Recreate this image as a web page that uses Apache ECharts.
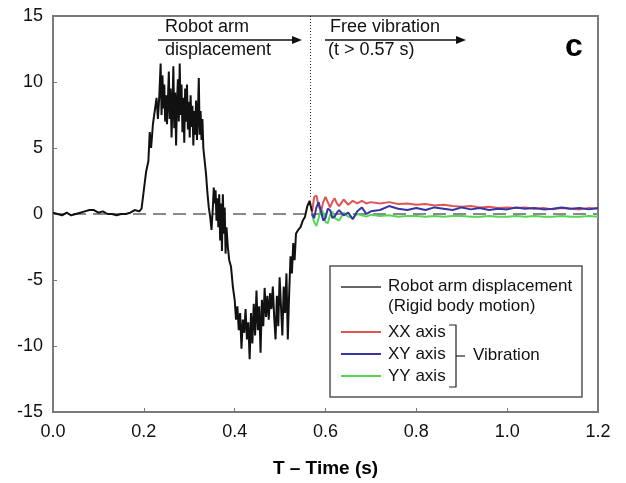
<!DOCTYPE html>
<html>
<head>
<meta charset="utf-8">
<script src="https://cdn.jsdelivr.net/npm/echarts@6/dist/echarts.min.js"></script>
<style>
  html, body { margin: 0; padding: 0; background: #fff; }
  #chart-container { width: 626px; height: 483px; }
</style>
</head>
<body>
<div id="chart-container"></div>
<script>
// rigid body motion of the robot arm
var armTime = [0.000, 0.010, 0.020, 0.030, 0.040, 0.050, 0.060, 0.070, 0.080, 0.090,
  0.100, 0.110, 0.120, 0.130, 0.140, 0.150, 0.160, 0.170, 0.180, 0.190, 0.195,
  0.200, 0.205, 0.210, 0.213, 0.216, 0.220, 0.224, 0.228, 0.231, 0.234, 0.237,
  0.239, 0.241, 0.243, 0.245, 0.247, 0.249, 0.251, 0.253, 0.255, 0.257, 0.259,
  0.261, 0.263, 0.265, 0.267, 0.269, 0.271, 0.273, 0.275, 0.277, 0.279, 0.281,
  0.283, 0.285, 0.287, 0.289, 0.291, 0.293, 0.295, 0.297, 0.299, 0.301, 0.303,
  0.305, 0.307, 0.309, 0.311, 0.313, 0.315, 0.317, 0.319, 0.321, 0.323, 0.325,
  0.327, 0.329, 0.331, 0.334, 0.337, 0.340, 0.343, 0.346, 0.349, 0.352, 0.354,
  0.356, 0.358, 0.360, 0.362, 0.364, 0.366, 0.368, 0.370, 0.372, 0.374, 0.376,
  0.378, 0.380, 0.382, 0.385, 0.388, 0.392, 0.396, 0.400, 0.403, 0.406, 0.409,
  0.412, 0.415, 0.418, 0.421, 0.424, 0.427, 0.430, 0.433, 0.436, 0.439, 0.442,
  0.445, 0.448, 0.451, 0.454, 0.457, 0.460, 0.463, 0.466, 0.469, 0.472, 0.475,
  0.478, 0.481, 0.484, 0.487, 0.490, 0.493, 0.496, 0.499, 0.502, 0.505, 0.508,
  0.511, 0.514, 0.517, 0.520, 0.523, 0.526, 0.529, 0.532, 0.535, 0.540, 0.545,
  0.550, 0.555, 0.560, 0.565, 0.570];
var armValue = [0.1, 0.0, -0.1, 0.1, -0.1, 0.0, 0.1, 0.2, 0.3, 0.3,
  0.1, 0.2, 0.0, 0.0, -0.1, 0.0, 0.0, 0.1, 0.3, 0.2, 0.4,
  1.8, 3.2, 4.0, 6.2, 5.0, 6.8, 7.8, 8.8, 7.2, 8.9, 11.4,
  7.5, 10.5, 8.0, 9.8, 7.0, 9.0, 6.8, 8.5, 10.8, 7.2, 9.5,
  5.8, 8.0, 11.2, 6.5, 9.2, 5.2, 8.4, 10.2, 7.0, 11.4, 7.5,
  9.8, 6.2, 8.8, 5.4, 9.5, 7.0, 9.8, 6.4, 8.5, 5.8, 9.0,
  6.6, 8.2, 5.2, 7.8, 6.0, 8.6, 5.6, 7.4, 10.3, 6.0, 7.8,
  5.6, 7.2, 5.0, 4.0, 3.0, 1.6, 0.5, -0.2, -1.2, 0.5, 2.0,
  0.8, 1.8, -0.5, 1.2, -1.0, 1.5, -2.0, 0.8, -2.8, 1.5, -1.5,
  0.5, -3.0, -1.0, -2.5, -3.5, -4.0, -5.5, -6.5, -8.0, -7.0, -8.8,
  -7.5, -10.2, -8.0, -9.0, -7.2, -9.5, -8.2, -11.0, -7.5, -9.8, -6.8,
  -9.2, -5.8, -8.8, -7.0, -10.5, -6.5, -8.5, -5.6, -7.8, -6.2, -8.0,
  -6.0, -7.2, -5.5, -7.8, -9.5, -6.2, -8.5, -4.8, -7.0, -9.2, -5.5,
  -7.5, -4.5, -9.5, -6.0, -3.2, -4.5, -2.2, -3.5, -1.5, -1.2, -1.0,
  -0.5, -0.2, 0.6, 1.0, 0.2];

// free vibration after t = 0.57 s
var vibTime = [0.570, 0.575, 0.580, 0.585, 0.590, 0.595, 0.600, 0.605, 0.610, 0.615,
  0.620, 0.625, 0.630, 0.640, 0.650, 0.660, 0.670, 0.680, 0.690, 0.700,
  0.720, 0.740, 0.760, 0.780, 0.800, 0.820, 0.840, 0.860, 0.880, 0.900,
  0.920, 0.940, 0.960, 0.980, 1.000, 1.020, 1.040, 1.060, 1.080, 1.100,
  1.120, 1.140, 1.160, 1.180, 1.200];
var xxValue = [0.0, 1.3, 1.4, 0.6, 0.2, 0.9, 1.3, 0.9, 0.5, 0.9,
  1.2, 0.8, 0.6, 1.1, 0.7, 1.0, 0.8, 1.0, 0.8, 0.9,
  0.8, 0.9, 0.75, 0.8, 0.7, 0.75, 0.65, 0.7, 0.6, 0.55,
  0.6, 0.5, 0.55, 0.45, 0.5, 0.45, 0.5, 0.4, 0.45, 0.35,
  0.45, 0.4, 0.35, 0.45, 0.4];
var xyValue = [0.0, -0.3, 0.5, 0.9, 0.2, -0.5, -0.3, 0.4, 0.3, -0.3,
  -0.2, 0.1, 0.3, -0.1, 0.1, -0.4, 0.2, 0.5, 0.0, 0.2,
  0.3, 0.6, 0.4, 0.3, 0.45, 0.3, 0.5, 0.4, 0.3, 0.5,
  0.35, 0.45, 0.3, 0.4, 0.35, 0.5, 0.4, 0.45, 0.35, 0.4,
  0.5, 0.4, 0.45, 0.35, 0.45];
var yyValue = [0.0, -0.6, -0.9, -0.3, 0.4, 0.1, -0.6, -0.7, -0.1, 0.2,
  -0.3, -0.4, -0.5, 0.1, -0.2, -0.3, 0.0, -0.1, -0.2, -0.05,
  -0.15, -0.1, -0.2, -0.15, -0.15, -0.2, -0.15, -0.2, -0.15, -0.15,
  -0.2, -0.2, -0.15, -0.2, -0.2, -0.15, -0.2, -0.15, -0.2, -0.2,
  -0.15, -0.2, -0.2, -0.15, -0.2];

var xTicks = [0.0, 0.2, 0.4, 0.6, 0.8, 1.0, 1.2];
var yTicks = [-15, -10, -5, 0, 5, 10, 15];
var splitTime = 0.567;

function pairs(t, v) {
  return t.map(function (x, i) { return [x, v[i]]; });
}

var chartDom = document.getElementById('chart-container');
var myChart = echarts.init(chartDom);
var font = 'Liberation Sans, Arial, sans-serif';

var option = {
  animation: false,
  grid: {
    left: 53, right: 28, top: 16, bottom: 71,
    show: true, borderColor: '#7a7a7a', borderWidth: 2
  },
  xAxis: {
    type: 'value',
    min: xTicks[0], max: xTicks[xTicks.length - 1], interval: 0.2,
    name: 'T – Time (s)', nameLocation: 'middle', nameGap: 47,
    nameTextStyle: { fontFamily: font, fontSize: 19, fontWeight: 'bold', color: '#000' },
    axisLine: { show: true, onZero: false, lineStyle: { color: '#7a7a7a', width: 2 } },
    axisTick: { inside: true, length: 4, lineStyle: { color: '#7a7a7a' } },
    axisLabel: { fontFamily: font, fontSize: 18, color: '#111', margin: 11,
      formatter: function (v) { return v.toFixed(1); } },
    splitLine: { show: false }
  },
  yAxis: {
    type: 'value',
    min: yTicks[0], max: yTicks[yTicks.length - 1], interval: 5,
    axisLine: { show: true, onZero: false, lineStyle: { color: '#7a7a7a', width: 2 } },
    axisTick: { show: true, inside: true, length: 4, lineStyle: { color: '#7a7a7a' } },
    axisLabel: { fontFamily: font, fontSize: 18, color: '#111', margin: 10 },
    splitLine: { show: false }
  },
  series: [
    {
      name: 'zero', type: 'line', symbol: 'none', silent: true,
      data: [[xTicks[0], 0], [xTicks[xTicks.length - 1], 0]],
      lineStyle: { color: '#8a8a8a', width: 2, type: [13, 7] }, z: 1
    },
    {
      name: 'YY axis', type: 'line', symbol: 'none', data: pairs(vibTime, yyValue),
      lineStyle: { color: '#55d655', width: 2 }, z: 2
    },
    {
      name: 'XX axis', type: 'line', symbol: 'none', data: pairs(vibTime, xxValue),
      lineStyle: { color: '#e05555', width: 2 }, z: 2
    },
    {
      name: 'XY axis', type: 'line', symbol: 'none', data: pairs(vibTime, xyValue),
      lineStyle: { color: '#3535a5', width: 2 }, z: 3
    },
    {
      name: 'Robot arm displacement', type: 'line', symbol: 'none',
      data: pairs(armTime, armValue),
      lineStyle: { color: '#111', width: 2 }, z: 4
    },
    {
      name: 'split', type: 'line', symbol: 'none', silent: true,
      data: [[splitTime, 15], [splitTime, 1.3]],
      lineStyle: { color: '#222', width: 1, type: [1, 2] }, z: 4
    }
  ],
  graphic: [
    // annotations
    { type: 'text', left: 165, top: 18, style: { text: 'Robot arm', font: '18px ' + font, fill: '#111' } },
    { type: 'text', left: 165, top: 41, style: { text: 'displacement', font: '18px ' + font, fill: '#111' } },
    { type: 'line', shape: { x1: 158, y1: 40, x2: 294, y2: 40 }, style: { stroke: '#111', lineWidth: 1.5 } },
    { type: 'polygon', shape: { points: [[302, 40], [292, 36], [292, 44]] }, style: { fill: '#111' } },
    { type: 'text', left: 330, top: 18, style: { text: 'Free vibration', font: '18px ' + font, fill: '#111' } },
    { type: 'text', left: 328, top: 41, style: { text: '(t > 0.57 s)', font: '18px ' + font, fill: '#111' } },
    { type: 'line', shape: { x1: 325, y1: 40, x2: 458, y2: 40 }, style: { stroke: '#111', lineWidth: 1.5 } },
    { type: 'polygon', shape: { points: [[466, 40], [456, 36], [456, 44]] }, style: { fill: '#111' } },
    { type: 'text', left: 565, top: 31, style: { text: 'c', font: 'bold 32px ' + font, fill: '#000' } },
    // legend box
    { type: 'rect', shape: { x: 330, y: 266, width: 252, height: 131 },
      style: { fill: '#fff', stroke: '#555', lineWidth: 1.5 }, z: 10 },
    { type: 'line', shape: { x1: 341, y1: 287, x2: 381, y2: 287 }, style: { stroke: '#333', lineWidth: 1.5 }, z: 11 },
    { type: 'text', left: 388, top: 278, z: 11, style: { text: 'Robot arm displacement', font: '17px ' + font, fill: '#111' } },
    { type: 'text', left: 388, top: 298, z: 11, style: { text: '(Rigid body motion)', font: '17px ' + font, fill: '#111' } },
    { type: 'line', shape: { x1: 341, y1: 332, x2: 381, y2: 332 }, style: { stroke: '#e05555', lineWidth: 2 }, z: 11 },
    { type: 'text', left: 388, top: 324, z: 11, style: { text: 'XX axis', font: '17px ' + font, fill: '#111' } },
    { type: 'line', shape: { x1: 341, y1: 354, x2: 381, y2: 354 }, style: { stroke: '#3535a5', lineWidth: 2 }, z: 11 },
    { type: 'text', left: 388, top: 346, z: 11, style: { text: 'XY axis', font: '17px ' + font, fill: '#111' } },
    { type: 'line', shape: { x1: 341, y1: 376, x2: 381, y2: 376 }, style: { stroke: '#55d655', lineWidth: 2 }, z: 11 },
    { type: 'text', left: 388, top: 368, z: 11, style: { text: 'YY axis', font: '17px ' + font, fill: '#111' } },
    { type: 'polyline', z: 11,
      shape: { points: [[449, 325], [456, 325], [456, 387], [449, 387]] },
      style: { stroke: '#222', lineWidth: 1.2, fill: null } },
    { type: 'line', z: 11, shape: { x1: 456, y1: 356, x2: 465, y2: 356 },
      style: { stroke: '#222', lineWidth: 1.2 } },
    { type: 'text', left: 473, top: 347, z: 11, style: { text: 'Vibration', font: '17px ' + font, fill: '#111' } }
  ]
};

myChart.setOption(option);
</script>
</body>
</html>
